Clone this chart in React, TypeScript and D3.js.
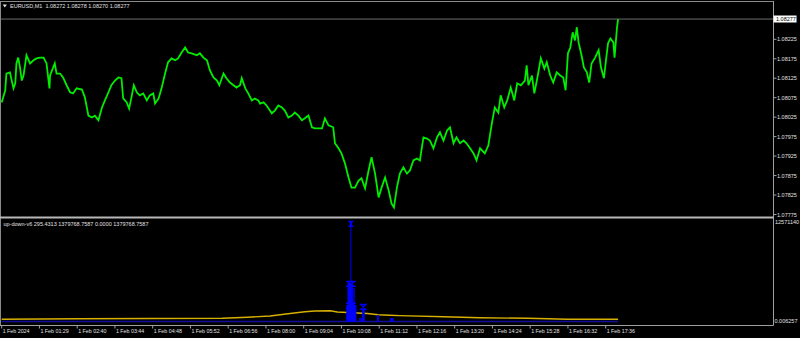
import React from "react";
import * as d3 from "d3";

// ---- main window: EURUSD M1 closes (bar index, price) ----
const closeIdx = [0,6,8,14,17,20,23,25,28,31,34,37,42,48,54,59,65,71,76,81,82,90,93,99,104,110,116,121,127,136,141,147,153,158,164,170,175,181,186,192,198,203,206,212,216,220,224,229,234,240,246,251,257,260,266,271,277,282,288,294,299,305,311,316,322,331,336,342,348,353,359,365,369,376,381,387,393,398,404,407,413,418,424,429,435,438,444,449,458,463,469,475,480,486,492,497,503,509,514,520,526,531,537,543,548,554,562,565,571,576,582,588,593,599,605,610,616,622,627,633,639,644,650,656,661,665,670,675,681,687,692,698,704,709,715,721,726,732,738,743,749,755,760,766,771,777,783,788,794,800,805,811,819,825,831,836,842,846,852,857,863,869,874,880,887,890,893,899,903,908,914,920,924,930,935,941,947,952,956,960,964,968,972,975,978,983,987,992,996,1000,1006,1012,1016,1021,1025,1028,1032,1037,1039,1043,1045];
const closeVal = [1.08063,1.08094,1.08137,1.08140,1.08119,1.08099,1.08112,1.08163,1.08178,1.08153,1.08119,1.08132,1.08184,1.08163,1.08171,1.08176,1.08178,1.08178,1.08163,1.08099,1.08132,1.08163,1.08137,1.08137,1.08127,1.08107,1.08089,1.08086,1.08099,1.08096,1.08076,1.08029,1.08024,1.08029,1.08017,1.08050,1.08068,1.08089,1.08107,1.08119,1.08127,1.08125,1.08073,1.08063,1.08047,1.08076,1.08107,1.08089,1.08081,1.08086,1.08068,1.08081,1.08086,1.08060,1.08073,1.08099,1.08137,1.08166,1.08176,1.08171,1.08176,1.08191,1.08204,1.08191,1.08189,1.08184,1.08189,1.08178,1.08171,1.08145,1.08127,1.08119,1.08107,1.08137,1.08125,1.08114,1.08107,1.08101,1.08107,1.08125,1.08099,1.08086,1.08068,1.08073,1.08068,1.08060,1.08063,1.08055,1.08035,1.08042,1.08055,1.08050,1.08042,1.08024,1.08029,1.08037,1.08029,1.08017,1.08022,1.08029,1.07999,1.07996,1.07996,1.07996,1.08022,1.08004,1.07999,1.07958,1.07945,1.07932,1.07906,1.07870,1.07844,1.07844,1.07862,1.07868,1.07842,1.07888,1.07922,1.07880,1.07819,1.07844,1.07870,1.07837,1.07803,1.07793,1.07844,1.07880,1.07896,1.07880,1.07888,1.07914,1.07919,1.07914,1.07973,1.07970,1.07965,1.07945,1.07973,1.07986,1.07965,1.07991,1.07999,1.07958,1.07973,1.07958,1.07965,1.07958,1.07945,1.07932,1.07914,1.07945,1.07932,1.07952,1.08009,1.08050,1.08037,1.08081,1.08050,1.08068,1.08101,1.08068,1.08112,1.08107,1.08119,1.08158,1.08107,1.08132,1.08086,1.08125,1.08176,1.08150,1.08166,1.08132,1.08114,1.08140,1.08132,1.08127,1.08094,1.08189,1.08204,1.08243,1.08222,1.08256,1.08217,1.08184,1.08153,1.08140,1.08114,1.08163,1.08178,1.08197,1.08153,1.08125,1.08178,1.08215,1.08227,1.08217,1.08178,1.08253,1.08277];
const lastPrice = 1.08277;
const priceTicks = [1.07775,1.07825,1.07875,1.07925,1.07975,1.08025,1.08075,1.08125,1.08175,1.08225];
const titleText = "EURUSD,M1  1.08272 1.08278 1.08270 1.08277";

// ---- time axis ----
const timeTickIdx = [0,64,128,192,256,320,384,448,512,576,640,704,768,832,896,960,1024];
const timeTickLabels = ["1 Feb 2024","1 Feb 01:29","1 Feb 02:40","1 Feb 03:44","1 Feb 04:48","1 Feb 05:52","1 Feb 06:56","1 Feb 08:00","1 Feb 09:04","1 Feb 10:08","1 Feb 11:12","1 Feb 12:16","1 Feb 13:20","1 Feb 14:24","1 Feb 15:28","1 Feb 16:32","1 Feb 17:36"];

// ---- sub window: up-down-v6 ----
const subTitle = "up-down-v6 295.4313 1379768.7587 0.0000 1379768.7587";
const subMax = 12571140;
const subMinLabel = "0.006257";
const yellowIdx = [0,131,374,417,455,489,514,531,557,569,603,620,638,658,675,749,811,892,959,1045];
const yellowVal = [272000,347000,409000,533000,681000,991000,1214000,1300000,1325000,1177000,1053000,991000,842000,768000,731000,594000,471000,396000,272000,272000];
const navyIdx = [0,1045];
const navyVal = [295.4313,295.4313];
const histIdx = [585,586,587,588,589,590,591,592,593,594,595,596,597,598,599,600,607,609,612,613,614,637,638,659,661,663];
const histVal = [2040000,2040000,4770000,4770000,4770000,4770000,4770000,12200000,4770000,4770000,2040000,2040000,4150000,2040000,2040000,2040000,450000,450000,1550000,1550000,1550000,800000,800000,430000,430000,430000];
const markerIdx = [592,592,592,613];
const markerVal = [12100000,4650000,1950000,1800000];

export default function App() {
  const W = 800, H = 338;
  const axisX = 773.5;
  const bottomY = 325.5;
  const x = d3.scaleLinear().domain([0, 1024]).range([1.7, 605.7]);
  const yP = d3.scaleLinear().domain([1.07775, 1.08225]).range([214.5, 39.3]);
  const yS = d3.scaleLinear().domain([0, subMax]).range([321.5, 220]);

  const pricePts: [number, number][] = closeIdx.map((d, i) => [d, closeVal[i]]);
  const priceLine = d3.line<[number, number]>().x(d => x(d[0])).y(d => yP(d[1]));
  const yellowPts: [number, number][] = yellowIdx.map((d, i) => [d, yellowVal[i]]);
  const navyPts: [number, number][] = navyIdx.map((d, i) => [d, navyVal[i]]);
  const subLine = d3.line<[number, number]>().x(d => x(d[0])).y(d => yS(d[1]));

  const markerW = [5, 10, 10, 7];
  const markerPath = (cx: number, cy: number, w: number) => {
    const h = 5;
    const l = cx - w / 2, r = cx + w / 2, t = cy - h / 2, b = cy + h / 2;
    return `M${l},${t}H${r}M${l},${b}H${r}M${l + 1},${t}L${r - 1},${b}M${r - 1},${t}L${l + 1},${b}`;
  };

  const font = "'Liberation Sans', Arial, sans-serif";
  const txt = "#e0e0e0";

  return (
    <svg width={W} height={H} style={{ position: "absolute", left: 0, top: 0, display: "block" }} fontFamily={font}>
      <rect x={0} y={0} width={W} height={H} fill="#000" />

      {/* price line (current bid) */}
      <line x1={0} x2={axisX} y1={yP(lastPrice)} y2={yP(lastPrice)} stroke="#6e6e6e" strokeWidth={1} />

      {/* main series */}
      <path d={priceLine(pricePts) || ""} fill="none" stroke="#00ee00" strokeWidth={1.8} strokeLinejoin="miter" />

      {/* sub window series */}
      <path d={subLine(navyPts) || ""} fill="none" stroke="#1010a0" strokeWidth={1.3} />
      <path d={subLine(yellowPts) || ""} fill="none" stroke="#d8b000" strokeWidth={1.4} />
      {histIdx.map((d, i) => (
        <rect key={"h" + i} x={x(d) - 0.5} width={i === 7 ? 1 : 1.3} y={yS(histVal[i])} height={yS(0) - yS(histVal[i])} fill="#0000ff" />
      ))}
      {markerIdx.map((d, i) => (
        <path key={"m" + i} d={markerPath(x(d), yS(markerVal[i]), markerW[i])} stroke="#0000ff" strokeWidth={1.3} fill="none" />
      ))}

      {/* frame */}
      <line x1={0.5} x2={0.5} y1={1} y2={bottomY} stroke="#8a8a8a" />
      <line x1={0} x2={axisX} y1={1.5} y2={1.5} stroke="#8a8a8a" />
      <line x1={axisX} x2={axisX} y1={1} y2={bottomY} stroke="#a0a0a0" />
      <line x1={0} x2={axisX} y1={bottomY} y2={bottomY} stroke="#a0a0a0" />
      <rect x={0} y={216.5} width={axisX} height={2} fill="#b8b8b8" />

      {/* right price axis */}
      {priceTicks.map((p, i) => (
        <g key={"p" + i}>
          <line x1={axisX} x2={axisX + 3} y1={yP(p)} y2={yP(p)} stroke="#a0a0a0" />
          <text x={777} y={yP(p) + 2} fontSize={5.5} fill={txt}>{p.toFixed(5)}</text>
        </g>
      ))}
      <rect x={axisX} y={15.5} width={23} height={7} fill="#ffffff" />
      <text x={776} y={yP(lastPrice) + 2} fontSize={5.5} fill="#000">{lastPrice.toFixed(5)}</text>

      {/* sub window axis labels */}
      <text x={775} y={yS(subMax) + 4} fontSize={5.5} fill={txt}>{String(subMax)}</text>
      <text x={774.5} y={yS(0) + 1.5} fontSize={5.5} fill={txt}>{subMinLabel}</text>

      {/* time axis */}
      {timeTickIdx.map((d, i) => (
        <g key={"t" + i}>
          <line x1={x(d)} x2={x(d)} y1={bottomY} y2={bottomY + 3} stroke="#a0a0a0" />
          <text x={x(d) + 1} y={332.5} fontSize={5.3} fill={txt}>{timeTickLabels[i]}</text>
        </g>
      ))}

      {/* titles */}
      <path d="M2.7,4.5 L6.9,4.5 L4.8,7.5 Z" fill={txt} />
      <text x={10} y={8} fontSize={5.5} fill={txt} style={{ whiteSpace: "pre" }}>{titleText}</text>
      <text x={3.5} y={226} fontSize={5.5} fill={txt}>{subTitle}</text>
    </svg>
  );
}
